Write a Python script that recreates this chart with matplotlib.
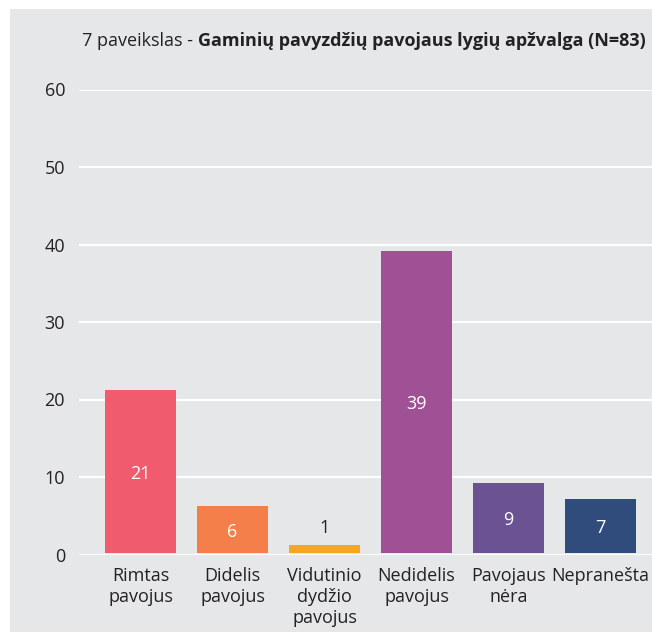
import numpy as np
import matplotlib.pyplot as plt
from matplotlib.patches import Rectangle

# duomenys
kategorijos = ["Rimtas\npavojus", "Didelis\npavojus", "Vidutinio\ndydžio\npavojus",
               "Nedidelis\npavojus", "Pavojaus\nnėra", "Nepranešta"]
reiksmes = [21, 6, 1, 39, 9, 7]
spalvos = ["#F05C6E", "#F47F4A", "#F6A623", "#A05094", "#6A5293", "#2F4C7C"]
y_ticks = [0, 10, 20, 30, 40, 50, 60]

plt.rcParams['font.family'] = ['Open Sans', 'DejaVu Sans']

W, H = 652, 632
fig = plt.figure(figsize=(W / 100, H / 100), dpi=100)
fig.patch.set_facecolor("white")

# pilkas fonas
fig.patches.append(Rectangle((10 / W, 0), 1, 1 - 9 / H, transform=fig.transFigure,
                             facecolor="#E6E7E9", edgecolor="none", zorder=-5))

ax = fig.add_axes([79 / W, (H - 554.5) / H, 1 - 79 / W, 465 / H])
ax.set_facecolor("none")

x = np.arange(len(reiksmes))
pagrindas = 0.2
stulpeliai = ax.bar(x, reiksmes, width=0.77, bottom=pagrindas, color=spalvos, zorder=3)

for xi, v in zip(x, reiksmes):
    if v >= 3:
        ax.text(xi, pagrindas + v / 2 - 0.3, str(v), ha="center", va="center",
                color="white", fontsize=13, zorder=4)
    else:
        ax.text(xi, pagrindas + v + 1.0, str(v), ha="center", va="bottom",
                color="#222222", fontsize=13, zorder=4)

ax.set_xlim(-0.668, 5.56)
ax.set_ylim(0, 60)
ax.set_yticks(y_ticks)
ax.set_xticks(x)
ax.set_xticklabels(kategorijos, fontsize=13, color="#222222", linespacing=1.22)
ax.tick_params(axis="y", length=0, pad=10, labelsize=13, labelcolor="#222222")
ax.tick_params(axis="x", length=0, pad=9)
for s in ax.spines.values():
    s.set_visible(False)
ax.grid(axis="y", color="white", linewidth=1.5, zorder=1)
ax.set_axisbelow(True)

# pavadinimas
t1 = fig.text(82 / W, 1 - 46 / H, "7 paveikslas - ", fontsize=13,
              color="#222222", va="baseline", ha="left")
t2 = plt.annotate("Gaminių pavyzdžių pavojaus lygių apžvalga (N=83)", xy=(1, 0),
                  xycoords=t1, va="bottom", ha="left", fontsize=13,
                  fontweight="bold", color="#222222", annotation_clip=False)

fig.savefig("out.png", dpi=100)
